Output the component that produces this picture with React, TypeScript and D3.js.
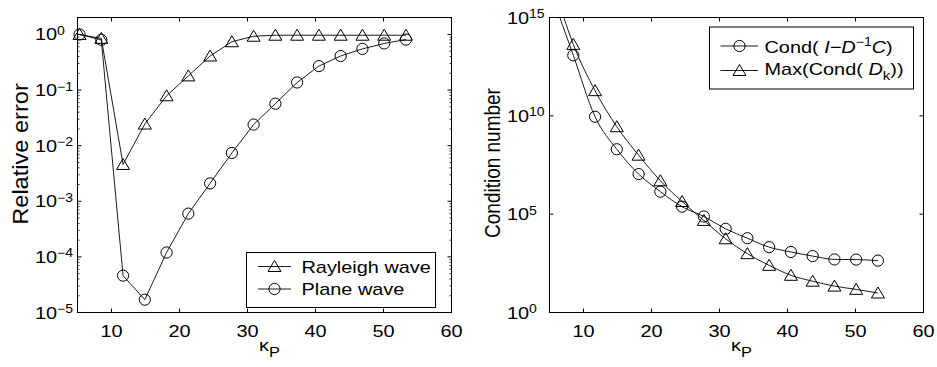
import React from "react";
import * as d3 from "d3";

const kappa = [5.3, 8.5, 11.7, 14.9, 18.1, 21.3, 24.5, 27.7, 30.9, 34.1, 37.3, 40.5, 43.7, 46.9, 50.1, 53.3];
const rayleighErr = [1.0, 0.85, 4.6e-3, 0.0245, 0.079, 0.18, 0.41, 0.74, 0.93, 0.97, 0.97, 0.97, 0.97, 0.97, 0.97, 0.97];
const planeErr = [1.0, 0.8, 4.6e-5, 1.7e-5, 1.2e-4, 6e-4, 2.1e-3, 7.4e-3, 0.024, 0.057, 0.137, 0.27, 0.41, 0.55, 0.69, 0.81];
const condIDC = [1.5e16, 1.2e13, 9e9, 2e8, 1.1e7, 1.4e6, 2.4e5, 7.6e4, 1.8e4, 6e3, 2.1e3, 1.2e3, 740, 500, 490, 435];
const maxCondDk = [1e17, 4.3e13, 1.9e11, 2.8e9, 1e8, 5e6, 4.4e5, 4.8e4, 5.6e3, 980, 250, 78, 39, 22, 15, 9.8];

const xTicks = [10, 20, 30, 40, 50, 60];
const leftYExp = [0, -1, -2, -3, -4, -5];
const rightYExp = [15, 10, 5, 0];

const FONT = "'Liberation Sans', Arial, Helvetica, sans-serif";
const SX = 1.17; // horizontal stretch of the reference text
const FS = 17;

function SText({
  x,
  y,
  anchor = "start",
  size = FS,
  children,
}: {
  x: number;
  y: number;
  anchor?: string;
  size?: number;
  children: React.ReactNode;
}) {
  return (
    <g transform={`translate(${x},${y}) scale(${SX},1)`}>
      <text x={0} y={0} textAnchor={anchor as any} fontSize={size} fontFamily={FONT} fill="#000">
        {children}
      </text>
    </g>
  );
}

function VText({
  x,
  y,
  size,
  lenScale,
  thickScale,
  children,
}: {
  x: number;
  y: number;
  size: number;
  lenScale: number;
  thickScale: number;
  children: React.ReactNode;
}) {
  return (
    <g transform={`translate(${x},${y}) rotate(-90) scale(${lenScale},${thickScale})`}>
      <text x={0} y={0} textAnchor="middle" fontSize={size} fontFamily={FONT} fill="#000">
        {children}
      </text>
    </g>
  );
}

function Tri({ x, y }: { x: number; y: number }) {
  return (
    <path
      d={`M${x},${y - 6}L${x + 6.5},${y + 5}L${x - 6.5},${y + 5}Z`}
      fill="none"
      stroke="#000"
      strokeWidth={1}
    />
  );
}
function Circ({ x, y }: { x: number; y: number }) {
  return <circle cx={x} cy={y} r={5.6} fill="none" stroke="#000" strokeWidth={1} />;
}

function expLabel(e: number) {
  return e < 0 ? "\u2212" + Math.abs(e) : String(e);
}

type Panel = {
  left: number;
  right: number;
  top: number;
  bottom: number;
  yDomain: [number, number];
  yExps: number[];
  minor: boolean;
  ylabel: string;
  ylabelX: number;
  ylabelY: number;
  ylabelSize: number;
  ylabelLen: number;
  ylabelThick: number;
  id: string;
};

function Axes({ p, children }: { p: Panel; children: (x: any, y: any) => React.ReactNode }) {
  const x = d3.scaleLinear().domain([5, 60]).range([p.left, p.right]);
  const y = d3.scaleLog().domain(p.yDomain).range([p.bottom, p.top]);
  const tl = 4;
  const minorVals: number[] = [];
  if (p.minor) {
    for (let e = Math.floor(Math.log10(p.yDomain[0])); e <= Math.ceil(Math.log10(p.yDomain[1])); e++) {
      for (let m = 2; m <= 9; m++) {
        const v = m * Math.pow(10, e);
        if (v > p.yDomain[0] && v < p.yDomain[1]) minorVals.push(v);
      }
    }
  }
  const cx = (p.left + p.right) / 2;
  return (
    <g>
      <defs>
        <clipPath id={"clip" + p.id}>
          <rect x={p.left} y={p.top} width={p.right - p.left} height={p.bottom - p.top} />
        </clipPath>
      </defs>
      {xTicks.map((t) => (
        <g key={"xt" + t}>
          <line x1={x(t)} x2={x(t)} y1={p.bottom} y2={p.bottom - tl} stroke="#000" />
          <line x1={x(t)} x2={x(t)} y1={p.top} y2={p.top + tl} stroke="#000" />
          <SText x={x(t)} y={p.bottom + 24.5} anchor="middle">
            {t}
          </SText>
        </g>
      ))}
      {minorVals.map((v, i) => (
        <g key={"mn" + i}>
          <line x1={p.left} x2={p.left + 2} y1={y(v)} y2={y(v)} stroke="#000" strokeWidth={0.8} />
          <line x1={p.right} x2={p.right - 2} y1={y(v)} y2={y(v)} stroke="#000" strokeWidth={0.8} />
        </g>
      ))}
      {p.yExps.map((e) => {
        const yy = y(Math.pow(10, e));
        return (
          <g key={"yt" + e}>
            <line x1={p.left} x2={p.left + tl} y1={yy} y2={yy} stroke="#000" />
            <line x1={p.right} x2={p.right - tl} y1={yy} y2={yy} stroke="#000" />
            <SText x={p.left - 20.5} y={yy + 6} anchor="end">
              10
            </SText>
            <SText x={p.left - 20.5} y={yy + 0.5} size={12} anchor="start">
              {expLabel(e)}
            </SText>
          </g>
        );
      })}
      {children(x, y)}
      <rect
        x={p.left}
        y={p.top}
        width={p.right - p.left}
        height={p.bottom - p.top}
        fill="none"
        stroke="#000"
        strokeWidth={1}
      />
      <VText
        x={p.ylabelX}
        y={p.ylabelY}
        size={p.ylabelSize}
        lenScale={p.ylabelLen}
        thickScale={p.ylabelThick}
      >
        {p.ylabel}
      </VText>
      <SText x={cx + 5} y={p.bottom + 38} anchor="middle">
        κ
        <tspan fontSize={14} dy={6.5}>
          P
        </tspan>
      </SText>
    </g>
  );
}

export default function App() {
  const leftP: Panel = {
    left: 77.5,
    right: 451.5,
    top: 17.5,
    bottom: 312.5,
    yDomain: [1e-5, 2.02],
    yExps: leftYExp,
    minor: true,
    ylabel: "Relative error",
    ylabelX: 28,
    ylabelY: 154,
    ylabelSize: 20,
    ylabelLen: 1.18,
    ylabelThick: 1.1,
    id: "L",
  };
  const rightP: Panel = {
    left: 549.5,
    right: 923.5,
    top: 17.5,
    bottom: 312.5,
    yDomain: [1, 1e15],
    yExps: rightYExp,
    minor: false,
    ylabel: "Condition number",
    ylabelX: 500,
    ylabelY: 163,
    ylabelSize: 19,
    ylabelLen: 1,
    ylabelThick: SX,
    id: "R",
  };

  const pts = (ys: number[]) => kappa.map((k, i) => [k, ys[i]] as [number, number]);

  return (
    <svg width={937} height={367} style={{ position: "absolute", left: 0, top: 0, background: "#fff" }}>
      <rect width={937} height={367} fill="#fff" />
      <Axes p={leftP}>
        {(x, y) => {
          const ln = d3
            .line<[number, number]>()
            .x((d) => x(d[0]))
            .y((d) => y(d[1]));
          return (
            <g>
              <g clipPath="url(#clipL)">
                <path d={ln(pts(rayleighErr)) || ""} fill="none" stroke="#000" strokeWidth={0.9} />
                <path d={ln(pts(planeErr)) || ""} fill="none" stroke="#000" strokeWidth={0.9} />
              </g>
              {kappa.map((k, i) => (
                <Tri key={"rt" + i} x={x(k)} y={y(rayleighErr[i])} />
              ))}
              {kappa.map((k, i) => (
                <Circ key={"pc" + i} x={x(k)} y={y(planeErr[i])} />
              ))}
              <g>
                <rect x={246.5} y={252.5} width={189} height={55} fill="#fff" stroke="#000" />
                <line x1={258} x2={291} y1={266.5} y2={266.5} stroke="#000" strokeWidth={0.9} />
                <Tri x={274.5} y={266.5} />
                <SText x={301.5} y={273}>Rayleigh wave</SText>
                <line x1={258} x2={291} y1={289} y2={289} stroke="#000" strokeWidth={0.9} />
                <Circ x={274.5} y={289} />
                <SText x={301.5} y={295}>Plane wave</SText>
              </g>
            </g>
          );
        }}
      </Axes>
      <Axes p={rightP}>
        {(x, y) => {
          const ln = d3
            .line<[number, number]>()
            .x((d) => x(d[0]))
            .y((d) => y(d[1]))
            .curve(d3.curveMonotoneX);
          const [d0, d1] = rightP.yDomain;
          return (
            <g>
              <g clipPath="url(#clipR)">
                <path d={ln(pts(condIDC)) || ""} fill="none" stroke="#000" strokeWidth={0.9} />
                <path d={ln(pts(maxCondDk)) || ""} fill="none" stroke="#000" strokeWidth={0.9} />
              </g>
              {kappa.map((k, i) =>
                condIDC[i] >= d0 && condIDC[i] <= d1 ? <Circ key={"cc" + i} x={x(k)} y={y(condIDC[i])} /> : null
              )}
              {kappa.map((k, i) =>
                maxCondDk[i] >= d0 && maxCondDk[i] <= d1 ? <Tri key={"mt" + i} x={x(k)} y={y(maxCondDk[i])} /> : null
              )}
              <g>
                <rect x={709.5} y={27} width={204} height={62} fill="#fff" stroke="#000" />
                <line x1={720.5} x2={758} y1={46} y2={46} stroke="#000" strokeWidth={0.9} />
                <Circ x={739.5} y={46} />
                <SText x={764.5} y={53}>
                  {"Cond( "}
                  <tspan fontStyle="italic">{"I\u2212D"}</tspan>
                  <tspan fontSize={12} dy={-7}>
                    {"\u22121"}
                  </tspan>
                  <tspan fontStyle="italic" dy={7}>
                    C
                  </tspan>
                  {")"}
                </SText>
                <line x1={720.5} x2={758} y1={70.5} y2={70.5} stroke="#000" strokeWidth={0.9} />
                <Tri x={739.5} y={70.5} />
                <SText x={764.5} y={75}>
                  {"Max(Cond( "}
                  <tspan fontStyle="italic">D</tspan>
                  <tspan fontSize={13} dy={5}>
                    k
                  </tspan>
                  <tspan dy={-5}>))</tspan>
                </SText>
              </g>
            </g>
          );
        }}
      </Axes>
    </svg>
  );
}
